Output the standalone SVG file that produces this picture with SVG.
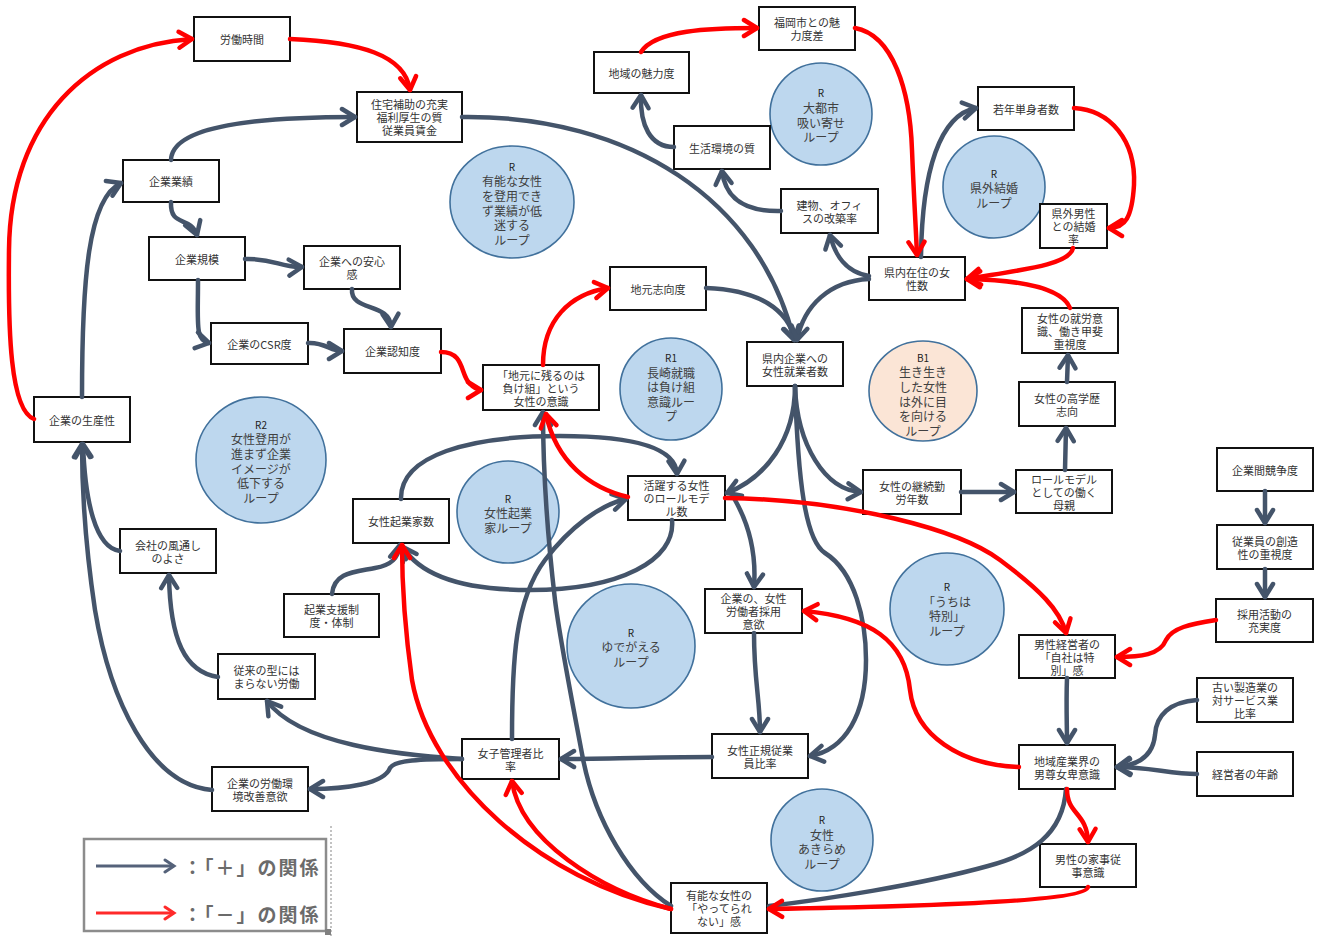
<svg xmlns="http://www.w3.org/2000/svg" width="1318" height="938" viewBox="0 0 1318 938">
<style>
.nd rect{fill:#fff;stroke:#111;stroke-width:2}
.nd text{font-family:"Noto Sans CJK JP","Noto Sans",sans-serif;font-size:11px;fill:#333;text-anchor:middle;dominant-baseline:central}
.lp ellipse{fill:#BDD7EE;stroke:#41719C;stroke-width:1.6}
.lp.bal ellipse{fill:#FBE5D6}
.lp text{font-family:"Noto Sans CJK JP","Noto Sans",sans-serif;font-size:12px;fill:#404040;text-anchor:middle;dominant-baseline:central}
.lp .k{font-size:10px;fill:#222}
.b{fill:none;stroke:#44546A;stroke-width:4.5;stroke-linecap:round;marker-end:url(#ab)}
.bn{fill:none;stroke:#44546A;stroke-width:4.5;stroke-linecap:round}
.r{fill:none;stroke:#FF0000;stroke-width:4.5;stroke-linecap:round;marker-end:url(#ar)}
.lg{font-family:"Noto Sans CJK JP","Noto Sans",sans-serif;font-size:19px;font-weight:bold;fill:#6B6B6B;dominant-baseline:central;letter-spacing:2px}
</style>
<defs>
<marker id="ab" markerUnits="userSpaceOnUse" markerWidth="22" markerHeight="22" viewBox="0 0 22 22" refX="18" refY="11" orient="auto"><path d="M5,3 L18,11 L5,19" fill="none" stroke="#44546A" stroke-width="4.5" stroke-linecap="round" stroke-linejoin="round"/></marker>
<marker id="ar" markerUnits="userSpaceOnUse" markerWidth="22" markerHeight="22" viewBox="0 0 22 22" refX="18" refY="11" orient="auto"><path d="M5,3 L18,11 L5,19" fill="none" stroke="#FF0000" stroke-width="4.5" stroke-linecap="round" stroke-linejoin="round"/></marker>
<marker id="lb" markerUnits="userSpaceOnUse" markerWidth="16" markerHeight="16" viewBox="0 0 16 16" refX="13" refY="8" orient="auto"><path d="M4,2 L13,8 L4,14" fill="none" stroke="#55627A" stroke-width="3" stroke-linecap="round"/></marker>
<marker id="lr" markerUnits="userSpaceOnUse" markerWidth="16" markerHeight="16" viewBox="0 0 16 16" refX="13" refY="8" orient="auto"><path d="M4,2 L13,8 L4,14" fill="none" stroke="#FF2A2A" stroke-width="3" stroke-linecap="round"/></marker>
</defs>
<rect width="1318" height="938" fill="#fff"/>

<g id="loops">
<g id="loop-yuno" class="lp"><ellipse cx="512" cy="202" rx="62" ry="56"/><text x="512"><tspan class="k" x="512" y="165.5">R</tspan><tspan x="512" y="180">有能な女性</tspan><tspan x="512" y="194.5">を登用でき</tspan><tspan x="512" y="209.5">ず業績が低</tspan><tspan x="512" y="224">迷する</tspan><tspan x="512" y="238.5">ループ</tspan></text></g>
<g id="loop-daitoshi" class="lp"><ellipse cx="821" cy="114" rx="51" ry="51"/><text><tspan class="k" x="821" y="92">R</tspan><tspan x="821" y="106.5">大都市</tspan><tspan x="821" y="121.5">吸い寄せ</tspan><tspan x="821" y="136">ループ</tspan></text></g>
<g id="loop-kengai" class="lp"><ellipse cx="994" cy="187" rx="51" ry="51"/><text><tspan class="k" x="994" y="172.5">R</tspan><tspan x="994" y="187">県外結婚</tspan><tspan x="994" y="201.5">ループ</tspan></text></g>
<g id="loop-r1" class="lp"><ellipse cx="671" cy="389" rx="51" ry="51"/><text><tspan class="k" x="671" y="357">R1</tspan><tspan x="671" y="371.5">長崎就職</tspan><tspan x="671" y="386">は負け組</tspan><tspan x="671" y="400.5">意識ルー</tspan><tspan x="671" y="415">プ</tspan></text></g>
<g id="loop-b1" class="lp bal"><ellipse cx="923" cy="391" rx="54" ry="50"/><text><tspan class="k" x="923" y="356.5">B1</tspan><tspan x="923" y="371">生き生き</tspan><tspan x="923" y="385.5">した女性</tspan><tspan x="923" y="400.5">は外に目</tspan><tspan x="923" y="415">を向ける</tspan><tspan x="923" y="429.5">ループ</tspan></text></g>
<g id="loop-r2" class="lp"><ellipse cx="261" cy="460" rx="65" ry="63"/><text><tspan class="k" x="261" y="423.5">R2</tspan><tspan x="261" y="438">女性登用が</tspan><tspan x="261" y="452.5">進まず企業</tspan><tspan x="261" y="467.5">イメージが</tspan><tspan x="261" y="482">低下する</tspan><tspan x="261" y="496.5">ループ</tspan></text></g>
<g id="loop-kigyo" class="lp"><ellipse cx="508" cy="512" rx="51" ry="51"/><text><tspan class="k" x="508" y="497.5">R</tspan><tspan x="508" y="512">女性起業</tspan><tspan x="508" y="526.5">家ループ</tspan></text></g>
<g id="loop-yude" class="lp"><ellipse cx="631" cy="646" rx="64" ry="62"/><text><tspan class="k" x="631" y="631.5">R</tspan><tspan x="631" y="646">ゆでがえる</tspan><tspan x="631" y="660.5">ループ</tspan></text></g>
<g id="loop-uchi" class="lp"><ellipse cx="947" cy="609" rx="57" ry="56"/><text><tspan class="k" x="947" y="586">R</tspan><tspan x="947" y="600.5">「うちは</tspan><tspan x="947" y="615">特別」</tspan><tspan x="947" y="629.5">ループ</tspan></text></g>
<g id="loop-akirame" class="lp"><ellipse cx="822" cy="840" rx="51" ry="51"/><text><tspan class="k" x="822" y="819">R</tspan><tspan x="822" y="833.5">女性</tspan><tspan x="822" y="848">あきらめ</tspan><tspan x="822" y="862.5">ループ</tspan></text></g>
</g>

<g id="nodes">
<g id="n-rodojikan" class="nd"><rect x="194" y="17" width="96" height="44"/><text x="242" y="39">労働時間</text></g>
<g id="n-jutaku" class="nd"><rect x="357" y="92" width="105" height="50"/><text><tspan x="409.5" y="104">住宅補助の充実</tspan><tspan x="409.5" y="117">福利厚生の質</tspan><tspan x="409.5" y="130">従業員賃金</tspan></text></g>
<g id="n-gyoseki" class="nd"><rect x="123" y="160" width="96" height="42"/><text x="171" y="181">企業業績</text></g>
<g id="n-kibo" class="nd"><rect x="149" y="237" width="96" height="43"/><text x="197" y="258.5">企業規模</text></g>
<g id="n-anshin" class="nd"><rect x="304" y="246" width="96" height="43"/><text><tspan x="352" y="261">企業への安心</tspan><tspan x="352" y="274">感</tspan></text></g>
<g id="n-csr" class="nd"><rect x="211" y="323" width="97" height="41"/><text x="259.5" y="343.5">企業のCSR度</text></g>
<g id="n-ninchi" class="nd"><rect x="344" y="329" width="97" height="44"/><text x="392.5" y="351">企業認知度</text></g>
<g id="n-makegumi" class="nd"><rect x="483" y="365" width="116" height="45"/><text><tspan x="541" y="374.5">「地元に残るのは</tspan><tspan x="541" y="387.5">負け組」という</tspan><tspan x="541" y="400.5">女性の意識</tspan></text></g>
<g id="n-jimoto" class="nd"><rect x="610" y="267" width="96" height="43"/><text x="658" y="288.5">地元志向度</text></g>
<g id="n-chiiki" class="nd"><rect x="594" y="52" width="95" height="41"/><text x="641.5" y="72.5">地域の魅力度</text></g>
<g id="n-fukuoka" class="nd"><rect x="759" y="7" width="96" height="43"/><text><tspan x="807" y="22">福岡市との魅</tspan><tspan x="807" y="35">力度差</tspan></text></g>
<g id="n-seikatsu" class="nd"><rect x="674" y="126" width="96" height="43"/><text x="722" y="147.5">生活環境の質</text></g>
<g id="n-tatemono" class="nd"><rect x="781" y="189" width="97" height="44"/><text><tspan x="829.5" y="204.5">建物、オフィ</tspan><tspan x="829.5" y="217.5">スの改築率</tspan></text></g>
<g id="n-kennai" class="nd"><rect x="869" y="257" width="96" height="43"/><text><tspan x="917" y="272">県内在住の女</tspan><tspan x="917" y="285">性数</tspan></text></g>
<g id="n-jakunen" class="nd"><rect x="978" y="87" width="96" height="43"/><text x="1026" y="108.5">若年単身者数</text></g>
<g id="n-kengai" class="nd"><rect x="1040" y="204" width="67" height="44"/><text><tspan x="1073.5" y="213">県外男性</tspan><tspan x="1073.5" y="226">との結婚</tspan><tspan x="1073.5" y="239">率</tspan></text></g>
<g id="n-shuro" class="nd"><rect x="1022" y="308" width="96" height="45"/><text><tspan x="1070" y="317.5">女性の就労意</tspan><tspan x="1070" y="330.5">識、働き甲斐</tspan><tspan x="1070" y="343.5">重視度</tspan></text></g>
<g id="n-gakureki" class="nd"><rect x="1019" y="382" width="96" height="44"/><text><tspan x="1067" y="397.5">女性の高学歴</tspan><tspan x="1067" y="410.5">志向</tspan></text></g>
<g id="n-hahaoya" class="nd"><rect x="1016" y="470" width="96" height="43"/><text><tspan x="1064" y="478.5">ロールモデル</tspan><tspan x="1064" y="491.5">としての働く</tspan><tspan x="1064" y="504.5">母親</tspan></text></g>
<g id="n-kyoso" class="nd"><rect x="1217" y="448" width="96" height="43"/><text x="1265" y="469.5">企業間競争度</text></g>
<g id="n-sozo" class="nd"><rect x="1217" y="525" width="96" height="44"/><text><tspan x="1265" y="540.5">従業員の創造</tspan><tspan x="1265" y="553.5">性の重視度</tspan></text></g>
<g id="n-saiyo" class="nd"><rect x="1216" y="599" width="97" height="43"/><text><tspan x="1264.5" y="614">採用活動の</tspan><tspan x="1264.5" y="627">充実度</tspan></text></g>
<g id="n-tokubetsu" class="nd"><rect x="1019" y="635" width="96" height="43"/><text><tspan x="1067" y="643.5">男性経営者の</tspan><tspan x="1067" y="656.5">「自社は特</tspan><tspan x="1067" y="669.5">別」感</tspan></text></g>
<g id="n-seizo" class="nd"><rect x="1197" y="678" width="96" height="44"/><text><tspan x="1245" y="687">古い製造業の</tspan><tspan x="1245" y="700">対サービス業</tspan><tspan x="1245" y="713">比率</tspan></text></g>
<g id="n-danson" class="nd"><rect x="1019" y="745" width="96" height="44"/><text><tspan x="1067" y="760.5">地域産業界の</tspan><tspan x="1067" y="773.5">男尊女卑意識</tspan></text></g>
<g id="n-nenrei" class="nd"><rect x="1197" y="752" width="96" height="44"/><text x="1245" y="774">経営者の年齢</text></g>
<g id="n-kaji" class="nd"><rect x="1040" y="844" width="96" height="43"/><text><tspan x="1088" y="859">男性の家事従</tspan><tspan x="1088" y="872">事意識</tspan></text></g>
<g id="n-yatte" class="nd"><rect x="671" y="883" width="96" height="50"/><text><tspan x="719" y="895">有能な女性の</tspan><tspan x="719" y="908">「やってられ</tspan><tspan x="719" y="921">ない」感</tspan></text></g>
<g id="n-seiki" class="nd"><rect x="712" y="734" width="96" height="44"/><text><tspan x="760" y="749.5">女性正規従業</tspan><tspan x="760" y="762.5">員比率</tspan></text></g>
<g id="n-saiyoiyoku" class="nd"><rect x="705" y="589" width="97" height="44"/><text><tspan x="753.5" y="598">企業の、女性</tspan><tspan x="753.5" y="611">労働者採用</tspan><tspan x="753.5" y="624">意欲</tspan></text></g>
<g id="n-shugyo" class="nd"><rect x="747" y="342" width="96" height="44"/><text><tspan x="795" y="357.5">県内企業への</tspan><tspan x="795" y="370.5">女性就業者数</tspan></text></g>
<g id="n-rolemodel" class="nd"><rect x="628" y="476" width="97" height="44"/><text><tspan x="676.5" y="485">活躍する女性</tspan><tspan x="676.5" y="498">のロールモデ</tspan><tspan x="676.5" y="511">ル数</tspan></text></g>
<g id="n-keizoku" class="nd"><rect x="863" y="470" width="98" height="44"/><text><tspan x="912" y="485.5">女性の継続勤</tspan><tspan x="912" y="498.5">労年数</tspan></text></g>
<g id="n-kigyoka" class="nd"><rect x="353" y="499" width="96" height="44"/><text x="401" y="521">女性起業家数</text></g>
<g id="n-shien" class="nd"><rect x="284" y="594" width="95" height="43"/><text><tspan x="331.5" y="609">起業支援制</tspan><tspan x="331.5" y="622">度・体制</tspan></text></g>
<g id="n-kazetoshi" class="nd"><rect x="120" y="529" width="96" height="44"/><text><tspan x="168" y="544.5">会社の風通し</tspan><tspan x="168" y="557.5">のよさ</tspan></text></g>
<g id="n-seisansei" class="nd"><rect x="34" y="397" width="96" height="45"/><text x="82" y="419.5">企業の生産性</text></g>
<g id="n-juraigata" class="nd"><rect x="218" y="654" width="97" height="45"/><text><tspan x="266.5" y="670">従来の型には</tspan><tspan x="266.5" y="683">まらない労働</tspan></text></g>
<g id="n-kankyo" class="nd"><rect x="212" y="767" width="96" height="44"/><text><tspan x="260" y="782.5">企業の労働環</tspan><tspan x="260" y="795.5">境改善意欲</tspan></text></g>
<g id="n-kanrisha" class="nd"><rect x="462" y="739" width="97" height="40"/><text><tspan x="510.5" y="752.5">女子管理者比</tspan><tspan x="510.5" y="765.5">率</tspan></text></g>
</g>

<g id="connectors">
<path class="b" d="M82,397 C82,280 88,198 121,183"/>
<path class="b" d="M171,160 C172,125 260,117 355,117"/>
<path class="b" d="M171,202 C170,228 190,215 197,235"/>
<path class="b" d="M245,259 C275,258 280,268 302,267"/>
<path class="b" d="M198,280 C198,325 195,340 209,343"/>
<path class="b" d="M352,289 C350,312 390,302 391,327"/>
<path class="b" d="M308,343 C325,342 330,351 342,351"/>
<path class="b" d="M462,117 C630,115 760,200 794,340"/>
<path class="b" d="M706,288 C760,290 788,310 795,340"/>
<path class="b" d="M869,279 C830,281 804,305 797,340"/>
<path class="b" d="M869,276 C845,272 835,255 830,235"/>
<path class="b" d="M921,257 C922,170 940,115 976,108"/>
<path class="b" d="M781,211 C740,212 725,195 722,171"/>
<path class="b" d="M674,147 C650,147 640,125 641,95"/>
<path class="b" d="M795,386 C795,440 765,478 727,493"/>
<path class="b" d="M795,386 C797,445 825,490 861,492"/>
<path class="b" d="M795,386 C798,480 805,540 825,553 C855,572 866,620 866,660 C866,715 845,750 810,756"/>
<path class="b" d="M735,500 C752,530 756,560 754,587"/>
<path class="b" d="M754,633 C754,680 760,700 760,732"/>
<path class="b" d="M712,757 C650,757 600,759 561,759"/>
<path class="b" d="M462,759 C400,755 300,745 267,701"/>
<path class="b" d="M462,759 C420,759 395,760 390,768 C384,784 345,789 310,789"/>
<path class="b" d="M212,790 C150,785 110,700 95,610 C86,550 82,500 82,444"/>
<path class="b" d="M120,551 C95,548 85,500 83,444"/>
<path class="b" d="M218,677 C185,672 170,640 169,575"/>
<path class="b" d="M332,594 C334,572 355,572 375,568 C392,565 398,558 400,545"/>
<path class="b" d="M401,499 C400,455 470,436 560,436 C640,436 676,450 677,474"/>
<path class="b" d="M672,520 C676,560 620,590 530,590 C460,590 420,575 403,547"/>
<path class="b" d="M512,739 C512,660 515,600 545,560 C570,527 600,505 626,499"/>
<path class="b" d="M671,906 C630,880 595,820 583,759 C570,690 560,640 555,600 C548,540 543,470 543,412"/>
<path class="bn" d="M1066,789 C1063,835 1030,855 988,866 C920,885 820,900 769,906"/>
<path class="b" d="M1067,678 C1066,705 1067,725 1067,743"/>
<path class="b" d="M1197,700 C1170,702 1156,715 1155,735 C1153,755 1140,765 1117,767"/>
<path class="b" d="M1197,774 C1170,774 1150,767 1117,767"/>
<path class="b" d="M1265,491 L1265,523"/>
<path class="b" d="M1265,569 L1265,597"/>
<path class="b" d="M961,492 L1014,492"/>
<path class="b" d="M1065,470 L1066,428"/>
<path class="b" d="M1067,382 L1068,355"/>

<path class="r" d="M34,419 C10,410 8,330 9,250 C10,120 90,45 192,39"/>
<path class="r" d="M290,39 C360,42 405,55 410,90"/>
<path class="r" d="M441,352 C465,352 460,375 470,384 C474,388 478,390 481,390"/>
<path class="r" d="M543,365 C543,320 570,294 608,288"/>
<path class="r" d="M628,497 C590,488 556,462 546,414"/>
<path class="r" d="M641,52 C655,30 710,28 757,28"/>
<path class="r" d="M855,28 C893,35 910,90 912,150 C914,200 916,230 917,255"/>
<path class="r" d="M1074,108 C1110,110 1136,140 1134,185 C1132,218 1125,228 1109,228"/>
<path class="r" d="M1073,248 C1070,265 1020,270 967,279"/>
<path class="r" d="M1070,308 C1062,288 1020,280 967,279"/>
<path class="r" d="M725,498 C850,500 960,530 1000,560 C1040,590 1060,610 1066,633"/>
<path class="r" d="M1216,620 C1190,624 1172,628 1166,640 C1160,655 1140,657 1117,657"/>
<path class="r" d="M1019,767 C960,765 915,735 910,690 C905,640 870,617 804,611"/>
<path class="r" d="M1067,789 C1067,815 1087,812 1088,842"/>
<path class="r" d="M1088,887 C1086,900 950,906 769,909"/>
<path class="r" d="M671,909 C600,890 520,840 512,781"/>
<path class="r" d="M671,909 C540,880 430,780 412,680 C405,630 402,580 402,545"/>
</g>

<g id="legend">
<rect x="84" y="839" width="242" height="92" fill="#fff" stroke="#8C8C8C" stroke-width="2.5"/>
<line x1="96" y1="866" x2="174" y2="866" stroke="#55627A" stroke-width="3" marker-end="url(#lb)"/>
<line x1="96" y1="913" x2="174" y2="913" stroke="#FF2A2A" stroke-width="3" marker-end="url(#lr)"/>
<text class="lg" x="183" y="866">：「＋」の関係</text>
<text class="lg" x="183" y="913">：「－」の関係</text>
<line x1="331" y1="826" x2="331" y2="938" stroke="#9A9A9A" stroke-width="1.2" stroke-dasharray="2,2"/>
<rect x="325" y="929" width="6" height="6" fill="#808080"/>
</g>
</svg>
